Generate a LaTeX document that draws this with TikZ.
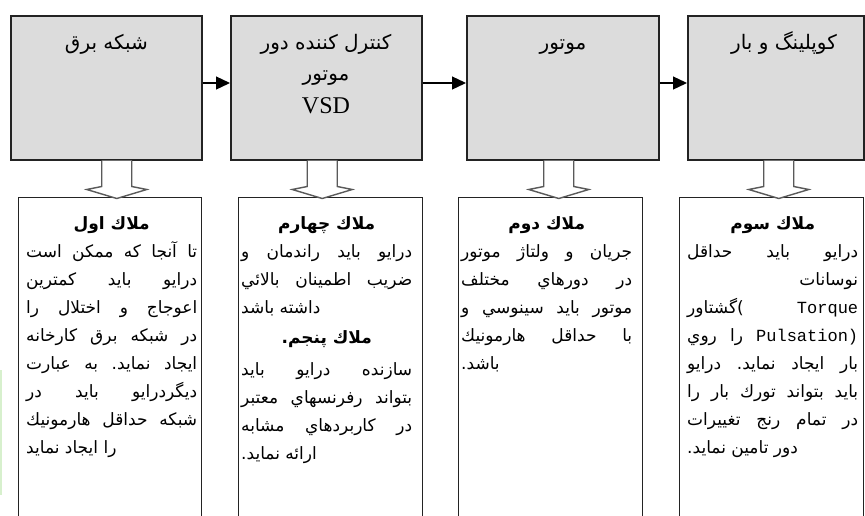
\documentclass[tikz,border=0pt]{standalone}
\usepackage{fontspec}
\usetikzlibrary{arrows.meta,calc}
\TeXXeTstate=1
\newfontfamily\arabicfont[Script=Arabic]{DejaVu Sans}
\newfontfamily\dotfont{DejaVu Sans}
\newfontfamily\serifLat{Liberation Serif}
\newfontfamily\monoLat{Liberation Mono}
\definecolor{boxgray}{RGB}{220,220,220}
\definecolor{edge}{RGB}{35,35,35}
\definecolor{hollowgray}{RGB}{90,90,90}
\definecolor{faintgreen}{RGB}{215,240,205}
\newcommand\pd{{\dotfont.}}
\newcommand\lp{{\dotfont(}}
\newcommand\lat[1]{{\monoLat\fontsize{17}{17}\selectfont\beginL #1\endL}}
\newcommand\LineC[1]{\hbox to\hsize{\hfil\beginR #1\endR\hfil}}
\newcommand\LineL[1]{\hbox to\hsize{\beginR #1\endR\hfil}}
\newcommand\LineR[1]{\hbox to\hsize{\hfil\beginR #1\endR}}
\ExplSyntaxOn
\NewDocumentCommand\LineJ{m}{
  \tl_set:Nn \l_tmpa_tl {#1}
  \tl_replace_all:Nnn \l_tmpa_tl {~} {\hfill}
  \hbox_to_wd:nn {\hsize} {\beginR \l_tmpa_tl \endR}
}
\ExplSyntaxOff
\newcommand\Col[1]{\vtop{\hsize=171pt\baselineskip=28pt\lineskiplimit=-100pt\lineskip=0pt\parskip=0pt #1}}
\newcommand\RL[1]{\beginR #1\endR}
\begin{document}
\begin{tikzpicture}[x=1pt,y=-1pt,
  topbox/.style={draw=edge, line width=1.5pt, fill=boxgray, anchor=north west, inner sep=0pt, minimum height=144pt},
  botbox/.style={draw=edge, line width=1.3pt, fill=white, anchor=north west, inner sep=0pt, minimum height=330pt},
  ttl/.style={anchor=base, inner sep=0pt, font=\arabicfont\fontsize{20}{22}\selectfont},
  body/.style={anchor=base west, inner sep=0pt, font=\arabicfont\fontsize{17}{28}\selectfont},
  conn/.style={draw=black, line width=1.3pt, -{Triangle[length=14pt,width=13pt]}},
  hollow/.style={draw=hollowgray, line width=1.4pt, fill=white, line join=miter}
]
\useasboundingbox (0,0) rectangle (865,515);
\fill[white] (0,0) rectangle (865,515);
\draw[faintgreen, line width=2pt] (1,370) -- (1,495);

% top boxes
\node[topbox, minimum width=191pt] (b1) at (10,15) {};
\node[topbox, minimum width=191pt] (b2) at (230,15) {};
\node[topbox, minimum width=192pt] (b3) at (466,15) {};
\node[topbox, minimum width=176pt] (b4) at (687,15) {};

% titles
\node[ttl] (b1t) at (106.5,49) {\RL{شبکه برق}};
\node[ttl] (b2t1) at (326,49) {\RL{کنترل کننده دور}};
\node[ttl] (b2t2) at (326,80) {\RL{موتور}};
\node[anchor=base, inner sep=0pt, font=\serifLat\fontsize{24}{24}\selectfont] (b2t3) at (326,113) {VSD};
\node[ttl] (b3t) at (563,49) {\RL{موتور}};
\node[ttl] (b4t) at (784,49) {\RL{کوپلینگ و بار}};

% connectors
\draw[conn] ($(b1.north east)+(0,68)$) -- ($(b2.north west)+(0,68)$);
\draw[conn] ($(b2.north east)+(0,68)$) -- ($(b3.north west)+(0,68)$);
\draw[conn] ($(b3.north east)+(0,68)$) -- ($(b4.north west)+(0,68)$);

% bottom boxes
\node[botbox, minimum width=183pt] (c1) at (18,197) {};
\node[botbox, minimum width=184pt] (c2) at (238,197) {};
\node[botbox, minimum width=184pt] (c3) at (458,197) {};
\node[botbox, minimum width=184pt] (c4) at (679,197) {};

% hollow arrows
\coordinate (h1) at ($(b1.south)+(10.5,0)$);
\coordinate (h2) at ($(b2.south)+(-4,0)$);
\coordinate (h3) at ($(b3.south)+(-4,0)$);
\coordinate (h4) at ($(b4.south)+(3,0)$);
\foreach \h in {h1,h2,h3,h4}{
  \draw[hollow] ($(\h)+(-15,0)$) -- ($(\h)+(-15,26)$) -- ($(\h)+(-30,29)$) -- ($(\h)+(0,38)$)
     -- ($(\h)+(30,29)$) -- ($(\h)+(15,26)$) -- ($(\h)+(15,0)$);
}

% texts
\node[body] (c1t) at (26,229) {\Col{%
\LineC{\bfseries ملاك اول}
\LineJ{تا آنجا که ممکن است}
\LineJ{درایو باید کمترین}
\LineJ{اعوجاج و اختلال را}
\LineJ{در شبکه برق کارخانه}
\LineJ{ایجاد نماید\pd{} به عبارت}
\LineJ{دیگردرایو باید در}
\LineJ{شبکه حداقل هارمونیك}
\LineL{را ایجاد نماید}
}};

\node[body] (c2t) at (241,229) {\Col{%
\LineC{\bfseries ملاك چهارم}
\LineJ{درایو باید راندمان و}
\LineJ{ضریب اطمینان بالائي}
\LineL{داشته باشد}
\vskip2pt
\LineC{\bfseries ملاك پنجم\pd}
\vskip4pt
\LineJ{سازنده درایو باید}
\LineJ{بتواند رفرنسهاي معتبر}
\LineJ{در کاربردهاي مشابه}
\LineL{ارائه نماید\pd}
}};

\node[body] (c3t) at (461,229) {\Col{%
\LineC{\bfseries ملاك دوم}
\LineJ{جریان و ولتاژ موتور}
\LineJ{در دورهاي مختلف}
\LineJ{موتور باید سینوسي و}
\LineJ{با حداقل هارمونیك}
\LineL{باشد\pd}
}};

\node[body] (c4t) at (687,229) {\Col{%
\LineC{\bfseries ملاك سوم}
\LineJ{درایو باید حداقل}
\LineR{نوسانات}
\LineJ{\lat{Torque} \lp گشتاور}
\LineJ{\lat{Pulsation)} را روي}
\LineJ{بار ایجاد نماید\pd{} درایو}
\LineJ{باید بتواند تورك بار را}
\LineJ{در تمام رنج تغییرات}
\LineL{دور تامین نماید\pd}
}};
\end{tikzpicture}
\end{document}
